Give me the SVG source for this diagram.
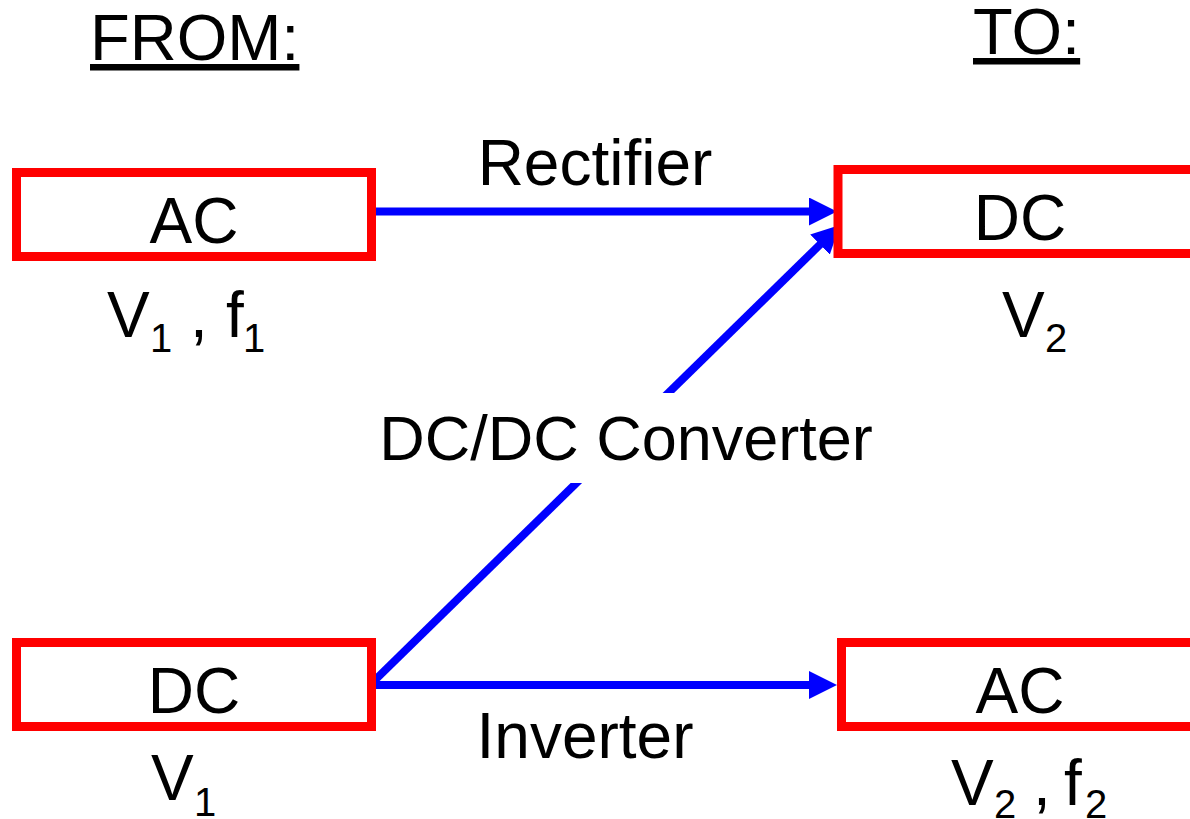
<svg xmlns="http://www.w3.org/2000/svg" width="1190" height="819" viewBox="0 0 1190 819">
<defs>
<style>
text{font-family:"Liberation Sans",Arial,sans-serif;fill:#000;}
.t{font-size:64px;}
.c{text-anchor:middle;}
.sub{font-size:40px;}
.box{fill:#fff;stroke:#ff0000;stroke-width:9;}
.conn{stroke:#0000ff;stroke-width:8;fill:none;marker-end:url(#ah);}
.hd{font-size:65px;text-decoration:underline;}
</style>
<marker id="ah" markerUnits="userSpaceOnUse" markerWidth="28" markerHeight="28" refX="8" refY="14" orient="auto">
<path d="M0,0 L28,14 L0,28 z" fill="#0000ff"/>
</marker>
</defs>
<rect width="1190" height="819" fill="#fff"/>
<g id="headers">
<text class="hd" x="90" y="60">FROM:</text>
<text class="hd" x="973" y="54">TO:</text>
</g>
<g id="connectors">
<line class="conn" x1="372" y1="211.5" x2="817" y2="211.5"/>
<line class="conn" x1="372" y1="685" x2="817" y2="685"/>
<line class="conn" x1="372" y1="683" x2="825.7" y2="239"/>
<text class="t c" x="595" y="185">Rectifier</text>
<text class="t c" x="585" y="758">Inverter</text>
<rect x="370" y="393" width="510" height="90" fill="#fff"/>
<text class="t c" x="626" y="460" style="font-size:63px">DC/DC Converter</text>
</g>
<g id="ac-in">
<rect class="box" x="16.5" y="172.5" width="355" height="84"/>
<text class="t c" x="194" y="243">AC</text>
<text class="t" y="337"><tspan x="107">V</tspan><tspan class="sub" x="150" dy="15">1</tspan><tspan x="190" dy="-15">,</tspan><tspan x="226">f</tspan><tspan class="sub" x="243" dy="15">1</tspan></text>
</g>
<g id="dc-in">
<rect class="box" x="16.5" y="642.5" width="355" height="84"/>
<text class="t c" x="194" y="713">DC</text>
<text class="t" y="800"><tspan x="151">V</tspan><tspan class="sub" x="194" dy="16">1</tspan></text>
</g>
<g id="dc-out">
<rect class="box" x="838" y="169.5" width="360" height="84"/>
<text class="t c" x="1020" y="240">DC</text>
<text class="t" y="337"><tspan x="1002">V</tspan><tspan class="sub" x="1045" dy="15">2</tspan></text>
</g>
<g id="ac-out">
<rect class="box" x="841.5" y="642.5" width="360" height="84"/>
<text class="t c" x="1020" y="713">AC</text>
<text class="t" y="805"><tspan x="951">V</tspan><tspan class="sub" x="994" dy="13">2</tspan><tspan x="1033" dy="-13">,</tspan><tspan x="1064">f</tspan><tspan class="sub" x="1085" dy="13">2</tspan></text>
</g>
</svg>
